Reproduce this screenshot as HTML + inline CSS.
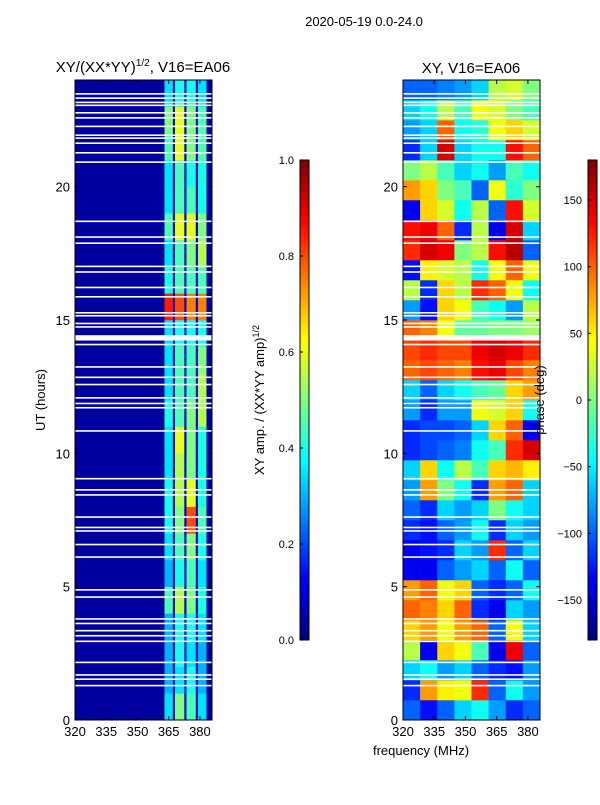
<!DOCTYPE html>
<html><head><meta charset="utf-8"><style>
body{margin:0;background:#fff;}
svg text{font-family:"Liberation Sans",sans-serif;fill:#000;}
</style></head><body>
<svg id="c" width="600" height="800" xmlns="http://www.w3.org/2000/svg">
<text x="364" y="26" font-size="13" text-anchor="middle">2020-05-19 0.0-24.0</text>
<text x="143" y="72" font-size="15" text-anchor="middle">XY/(XX*YY)<tspan font-size="10" dy="-6">1/2</tspan><tspan dy="6">, V16=EA06</tspan></text>
<text x="471" y="73" font-size="15" text-anchor="middle">XY, V16=EA06</text>
<text transform="translate(45,400) rotate(-90)" font-size="13" text-anchor="middle">UT (hours)</text>
<text transform="translate(264,400) rotate(-90)" font-size="13" text-anchor="middle">XY amp. / (XX*YY amp)<tspan font-size="9" dy="-5">1/2</tspan></text>
<text x="421" y="755" font-size="13" text-anchor="middle">frequency (MHz)</text>
<g id="g"></g>
<text transform="translate(544,400) rotate(-90)" font-size="13" text-anchor="middle">phase (deg)</text>
</svg>
<script>
const freqTicks=[320,335,350,365,380];
const hourTicks=[0,5,10,15,20];
const ampTicks=[0.0,0.2,0.4,0.6,0.8,1.0];
const phaseTicks=[-150,-100,-50,0,50,100,150];
const ampBandEdges=[[363,367],[368,372.5],[373.5,378],[379,383]];
const ampGapBands=[[367,368],[372.5,373.5],[378,379]];
const ampBackground=0.03, ampGap=0.1;
const ampRows=[[0.35,0.5,0.45,0.35],[0.3,0.35,0.4,0.3],[0.3,0.4,0.35,0.3],[0.3,0.4,0.4,0.35],[0.45,0.55,0.5,0.4],[0.3,0.4,0.45,0.35],[0.35,0.45,0.5,0.4],[0.4,0.5,0.8,0.45],[0.4,0.55,0.6,0.4],[0.35,0.55,0.5,0.4],[0.35,0.6,0.5,0.4],[0.4,0.45,0.5,0.55],[0.35,0.45,0.45,0.55],[0.35,0.45,0.45,0.5],[0.35,0.4,0.4,0.4],[0.85,0.8,0.75,0.75],[0.4,0.45,0.45,0.45],[0.35,0.45,0.5,0.55],[0.45,0.6,0.6,0.5],[0.35,0.45,0.45,0.4],[0.35,0.45,0.4,0.4],[0.45,0.6,0.5,0.45],[0.5,0.6,0.5,0.45],[0.35,0.4,0.4,0.35]];
const phaseRows=[[-100,-130,-100,-60,-40,-80,-120,-100],[-120,80,50,40,120,-100,-40,-80],[-60,-40,-80,-60,-100,-120,-130,-80],[20,-140,60,40,-20,-140,140,-100],[60,80,40,80,100,-100,40,-60],[100,90,60,100,-120,-140,-60,-80],[80,100,40,60,-100,-120,-100,-40],[-140,-140,-100,-80,-60,-100,-40,-100],[-140,-130,-120,-60,-80,120,-100,-60],[-120,-130,-100,-80,-40,-120,-60,-80],[-100,-120,-60,-80,-60,0,-40,-60],[-80,80,0,-40,-120,80,100,-60],[-60,60,-40,20,-20,60,70,50],[-120,-110,-100,-90,-40,-20,120,150],[-120,-110,-110,-100,-60,60,100,-140],[-80,-120,-80,-80,40,30,60,-40],[-60,-100,-60,-40,-20,-10,60,80],[100,110,100,90,130,140,110,90],[110,120,110,110,140,150,140,120],[100,90,40,-10,-10,0,0,10],[-80,-130,60,40,-20,-40,-80,20],[20,-120,60,20,120,100,40,-40],[-130,50,30,20,-40,40,100,40],[120,150,140,0,20,130,160,-100],[130,140,100,-120,20,-140,150,-60],[-140,60,30,-40,20,-100,130,30],[80,60,0,-20,-100,40,-30,0],[0,20,-20,-60,-40,-80,-20,-40],[-120,-60,150,-60,-40,-40,130,100],[-80,-60,100,-40,-30,40,60,30],[-60,-40,20,-20,40,30,0,-20],[-100,-100,-90,-80,-60,20,30,0]];
const flaggedHours=[23.48,23.32,23.16,23.05,22.77,22.58,22.26,21.93,21.82,21.63,21.27,20.92,18.7,18.11,17.88,17.01,16.8,16.22,15.87,15.27,15.16,14.87,14.74,14.33,14.08,13.24,12.85,12.58,12.08,11.87,11.71,10.84,9.05,8.63,8.44,7.61,7.22,7.09,6.58,6.11,4.88,4.61,3.79,3.62,3.35,3.16,2.95,2.16,1.69,1.53,1.29];
const flagWidths=[0.06,0.2];
const F0=320,F1=385.8,H0=0,H1=24;
const NS="http://www.w3.org/2000/svg";
const g=document.getElementById('g');
function el(t,a){const e=document.createElementNS(NS,t);for(const k in a)e.setAttribute(k,a[k]);g.appendChild(e);return e;}
function jet(v){v=Math.max(0,Math.min(1,v));const c=x=>Math.round(255*Math.max(0,Math.min(1,x)));
return `rgb(${c(1.5-Math.abs(4*v-3))},${c(1.5-Math.abs(4*v-2))},${c(1.5-Math.abs(4*v-1))})`;}
function panel(px){return{x:f=>px+(f-F0)/(F1-F0)*137,y:h=>720-(h-H0)/(H1-H0)*640};}
const L=panel(75),R=panel(403);
let r=el('rect',{x:75,y:80,width:137,height:640,fill:jet(ampBackground)});

ampRows.forEach((row,i)=>{row.forEach((v,j)=>{const b=ampBandEdges[j];
 const c=el('rect',{x:L.x(b[0]),y:L.y(i+1),width:L.x(b[1])-L.x(b[0])+0.3,height:L.y(i)-L.y(i+1)+0.3,fill:jet(v)});
 });});
ampGapBands.forEach(b=>{const c=el('rect',{x:L.x(b[0]),y:80,width:L.x(b[1])-L.x(b[0]),height:640,fill:jet(ampGap)});
 });
const nc=8,fw=(F1-F0)/nc;
phaseRows.forEach((row,i)=>{const h0=i*0.75;row.forEach((v,j)=>{
 const c=el('rect',{x:R.x(F0+j*fw),y:R.y(h0+0.75),width:R.x(F0+fw)-R.x(F0)+0.3,height:R.y(h0)-R.y(h0+0.75)+0.3,fill:jet((v+180)/360)});
 });});
flaggedHours.forEach(h=>{const w=(h===14.33)?flagWidths[1]:flagWidths[0];[L,R].forEach((P,k)=>{
 const c=el('rect',{x:k?403:75,y:P.y(h+w/2),width:137,height:Math.max(1.6,P.y(h-w/2)-P.y(h+w/2)),fill:'#fff'});
 });});
[[75,L,'left'],[403,R,'right']].forEach(([px,P,nm])=>{
 const f=el('rect',{x:px,y:80,width:137,height:640,fill:'none',stroke:'#000','stroke-width':1});
 
 freqTicks.forEach(t=>{const x=P.x(t);el('line',{x1:x,x2:x,y1:720,y2:716,stroke:'#000'});el('line',{x1:x,x2:x,y1:80,y2:84,stroke:'#000'});
  const tx=el('text',{x:x,y:736,'font-size':13,'text-anchor':'middle'});tx.textContent=t;
  });
 hourTicks.forEach(t=>{const y=P.y(t);el('line',{x1:px,x2:px+4,y1:y,y2:y,stroke:'#000'});el('line',{x1:px+133,x2:px+137,y1:y,y2:y,stroke:'#000'});
  const tx=el('text',{x:px-5,y:y+5,'font-size':13,'text-anchor':'end'});tx.textContent=t;
  });
});
function cbar(x,name,vals,lo,hi,isAmp){
 for(let i=0;i<120;i++){const c=el('rect',{x:x,y:640-(i+1)*4,width:9,height:4.3,fill:jet(i/119)});
  }
 const f=el('rect',{x:x,y:160,width:9,height:480,fill:'none',stroke:'#000'});
 
 vals.forEach(v=>{const y=640-(v-lo)/(hi-lo)*480;
  el('line',{x1:x,x2:x+3,y1:y,y2:y,stroke:'#000'});
  const tx=el('text',{x:x-6,y:y+4,'font-size':11,'text-anchor':'end'});
  tx.textContent=isAmp?v.toFixed(1):(v<0?'\u2212'+(-v):v);
  });
}
cbar(300,'amp-colorbar',ampTicks,0,1,true);
cbar(588,'phase-colorbar',phaseTicks,-180,180,false);
</script>
</body></html>
